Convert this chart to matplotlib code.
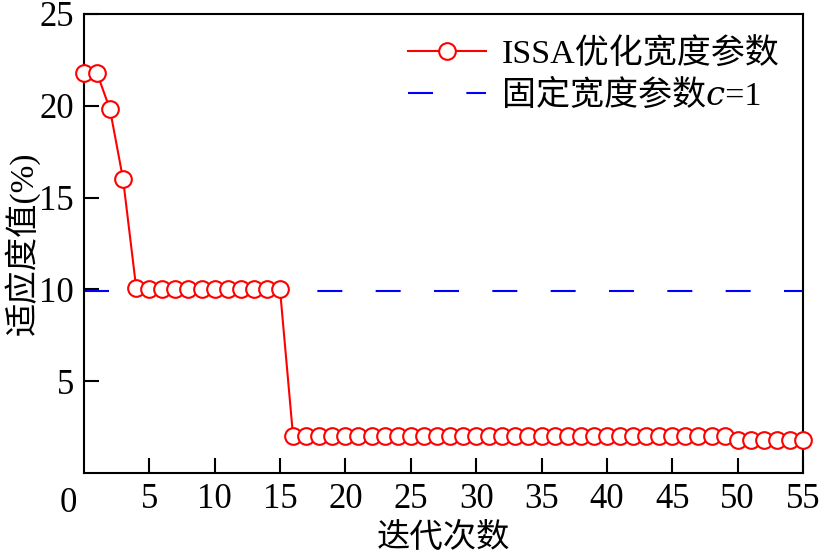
import numpy as np
import matplotlib
matplotlib.use('Agg')
import matplotlib.pyplot as plt

plt.rcParams['font.family'] = ['Liberation Serif', 'Noto Sans CJK SC', 'DejaVu Serif']

# iterations and fitness values (%)
iters = list(range(0, 56))
issa_fit = ([21.8, 21.8, 19.8, 16.0, 10.1] + [10.0] * 11
            + [2.0] * 34 + [1.8] * 6)
fixed_fit = 9.9
xticks = [5, 10, 15, 20, 25, 30, 35, 40, 45, 50, 55]
yticks = [5, 10, 15, 20, 25]

fig = plt.figure(figsize=(8.22, 5.53), dpi=100)
ax = fig.add_axes([0.102, 0.1447, 0.875, 0.83])

ax.plot(iters, issa_fit, color='red', lw=1.5, marker='o', ms=12,
        mfc='white', mec='red', mew=1.5, label='ISSA优化宽度参数',
        zorder=3, clip_on=False)
ax.plot([0, 55], [fixed_fit, fixed_fit], color='blue', lw=1.5,
        dashes=(12, 16), label='固定宽度参数\U0001D450=1', zorder=2)

ax.set_xlim(0, 55)
ax.set_ylim(0, 25)
ax.set_xticks(xticks)
ax.set_yticks(yticks)
ax.tick_params(direction='in', length=11, width=1.5, labelsize=25, pad=7)
for s in ax.spines.values():
    s.set_linewidth(1.5)

ax.annotate('0', xy=(0, 0), xycoords='axes fraction', xytext=(-11, -10),
            textcoords='offset points', ha='center', va='top', fontsize=25)

ax.set_xlabel('迭代次数', fontsize=24, labelpad=5)
ax.set_ylabel('适应度值(%)', fontsize=24, labelpad=0)

ax.legend(loc='upper right', frameon=False, fontsize=24.5, handlelength=2.3,
          handletextpad=0.45, labelspacing=0.3, borderaxespad=0.3)

fig.savefig('out.png', dpi=100)
